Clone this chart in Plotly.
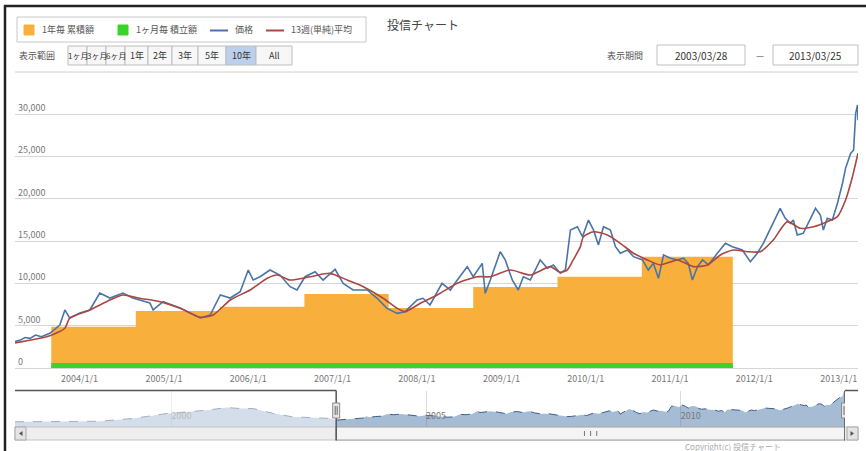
import pandas as pd
import plotly.graph_objects as go

# ---------------- data ----------------
# weekly NAV (sampled) for the visible period
price_dates = [
    "2003-03-28", "2003-04-20", "2003-05-10", "2003-06-01", "2003-06-25", "2003-07-20",
    "2003-08-26", "2003-10-08", "2003-10-30", "2003-11-20", "2004-01-03", "2004-02-15",
    "2004-03-29", "2004-05-12", "2004-07-07", "2004-08-19", "2004-11-01", "2004-11-15",
    "2004-12-28", "2005-03-12", "2005-06-07", "2005-07-20", "2005-09-02", "2005-10-15",
    "2005-11-27", "2006-01-01", "2006-01-22", "2006-02-21", "2006-04-05", "2006-05-18",
    "2006-07-01", "2006-07-31", "2006-09-04", "2006-10-17", "2006-11-21", "2007-01-12",
    "2007-02-16", "2007-03-31", "2007-05-31", "2007-07-13", "2007-08-25", "2007-10-08",
    "2007-11-11", "2008-01-02", "2008-01-28", "2008-02-27", "2008-04-19", "2008-05-25",
    "2008-06-24", "2008-08-06", "2008-09-01", "2008-10-10", "2008-10-23", "2008-11-14",
    "2008-12-27", "2009-01-18", "2009-02-17", "2009-03-15", "2009-04-06", "2009-05-06",
    "2009-06-18", "2009-07-19", "2009-08-14", "2009-09-13", "2009-10-05", "2009-10-27",
    "2009-11-26", "2009-12-18", "2010-01-13", "2010-02-04", "2010-02-25", "2010-03-19",
    "2010-04-18", "2010-05-10", "2010-05-31", "2010-07-01", "2010-07-27", "2010-09-04",
    "2010-09-29", "2010-10-21", "2010-11-12", "2010-12-04", "2011-01-03", "2011-02-02",
    "2011-02-28", "2011-03-21", "2011-04-08", "2011-04-30", "2011-05-22", "2011-06-16",
    "2011-07-25", "2011-08-29", "2011-09-28", "2011-11-10", "2011-12-15", "2012-01-14",
    "2012-02-09", "2012-03-23", "2012-04-22", "2012-05-14", "2012-06-05", "2012-06-18",
    "2012-07-05", "2012-07-31", "2012-08-22", "2012-09-22", "2012-10-13", "2012-10-26",
    "2012-11-12", "2012-12-04", "2012-12-26", "2013-01-17", "2013-01-30", "2013-02-21",
    "2013-03-06", "2013-03-15", "2013-03-23", "2013-03-25",
]
price_values = [
    3110, 3300, 3600, 3500, 3900, 3700,
    4100, 5080, 6860, 5900, 6500, 6860,
    8860, 8270, 8860, 8270, 7680, 6860,
    7840, 7090, 5910, 6260, 8630, 8270,
    9020, 11580, 10400, 10790, 11580, 10990,
    9610, 9220, 10790, 11380, 10400, 11660,
    10010, 9220, 9220, 8240, 7050, 6460,
    6660, 8040, 8240, 7450, 10010, 9220,
    10400, 11980, 10790, 12370, 8830, 10400,
    13750, 12770, 10400, 9220, 10790, 10400,
    12770, 11790, 12180, 11200, 11580, 16310,
    16700, 15520, 17490, 16310, 14540, 16700,
    16310, 14340, 13560, 13950, 13160, 12770,
    11580, 12370, 10600, 13360, 12970, 12770,
    12970, 12370, 10400, 11980, 12770, 12180,
    13560, 14740, 14340, 13950, 12570, 13560,
    14740, 17100, 18870, 17690, 17100, 17490,
    15720, 15920, 17100, 18870, 18090, 16310,
    17690, 17490, 19470, 21830, 23600, 25370,
    25770, 30100, 31090, 29300,
]

# 13-week moving average
ma_dates = [
    "2003-03-28", "2003-08-26", "2003-10-30", "2003-11-20", "2004-02-15", "2004-05-12",
    "2004-07-07", "2004-09-19", "2004-12-15", "2005-03-12", "2005-06-07", "2005-08-02",
    "2005-10-15", "2006-01-09", "2006-03-24", "2006-05-06", "2006-07-01", "2006-09-26",
    "2006-12-21", "2007-03-05", "2007-05-14", "2007-08-08", "2007-10-08", "2007-11-11",
    "2008-01-16", "2008-03-29", "2008-06-24", "2008-09-19", "2008-11-14", "2009-02-09",
    "2009-05-06", "2009-08-01", "2009-09-13", "2009-10-14", "2009-11-08", "2009-12-09",
    "2009-12-22", "2010-02-04", "2010-04-05", "2010-05-31", "2010-07-27", "2010-09-25",
    "2010-11-20", "2011-02-02", "2011-04-13", "2011-06-12", "2011-08-07", "2011-10-02",
    "2011-12-02", "2012-01-27", "2012-03-23", "2012-05-23", "2012-07-18", "2012-09-13",
    "2012-11-12", "2012-12-26", "2013-01-30", "2013-03-01", "2013-03-25",
]
ma_values = [
    2950, 3800, 4700, 5900, 6860, 8040,
    8630, 8240, 7840, 7060, 5990, 6260,
    8040, 9220, 10600, 10990, 10400, 10790,
    11190, 10400, 9610, 8240, 7050, 6660,
    7650, 8630, 10010, 10790, 10790, 11580,
    10990, 11980, 11300, 11600, 12770, 14340,
    15520, 16110, 15720, 14740, 13560, 12770,
    12180, 12770, 11980, 12180, 13360, 13950,
    13750, 13750, 15130, 17300, 16510, 16700,
    17300, 17890, 19860, 22610, 25380,
]

# yearly accumulated amount (step series) and monthly contribution
yearly_dates = [
    "2003-09-01", "2004-09-01", "2005-09-01", "2006-09-01", "2007-09-01",
    "2008-09-01", "2009-09-01", "2010-09-01", "2011-09-30",
]
yearly_values = [4880, 6740, 7250, 8750, 7090, 9570, 10780, 13140, 13140]
monthly_values = [600, 600, 600, 600, 600, 600, 600, 600, 600]

# older history, shown only in the navigator
history_dates = [
    "1996-12-05", "1997-10-20", "1998-08-10", "1999-04-01", "1999-12-01", "2000-04-20",
    "2000-09-10", "2001-02-01", "2001-05-10", "2001-08-10", "2002-01-01", "2002-05-20",
    "2002-10-15", "2003-02-15",
]
history_values = [
    1510, 1510, 2000, 4730, 9460, 10970,
    12580, 15140, 14190, 14190, 9460, 6240,
    5670, 4730,
]

y_tick_values = [0, 5000, 10000, 15000, 20000, 25000, 30000]
y_tick_text = ["0", "5,000", "10,000", "15,000", "20,000", "25,000", "30,000"]
x_tick_dates = ["2004-01-01", "2005-01-01", "2006-01-01", "2007-01-01", "2008-01-01",
                "2009-01-01", "2010-01-01", "2011-01-01", "2012-01-01", "2013-01-01"]
x_tick_text = ["2004/1/1", "2005/1/1", "2006/1/1", "2007/1/1", "2008/1/1",
               "2009/1/1", "2010/1/1", "2011/1/1", "2012/1/1", "2013/1/1"]
nav_tick_dates = ["2000-01-01", "2005-01-01", "2010-01-01"]
nav_tick_text = ["2000", "2005", "2010"]

range_buttons = ["1ヶ月", "3ヶ月", "6ヶ月", "1年", "2年", "3年", "5年", "10年", "All"]
selected_button = "10年"
view_start = "2003-03-28"
view_end = "2013-03-25"
view_start_text = "2003/03/28"
view_end_text = "2013/03/25"

legend_labels = ["1年毎 累積額", "1ヶ月毎 積立額", "価格", "13週(単純)平均"]
chart_title = "投信チャート"

# ---------------- styling / layout ----------------
W, H = 866, 451
ML, MR, MT, MB = 15, 8, 80, 24
PW = W - ML - MR
PH = H - MT - MB
PLOT_BOTTOM = H - MB

ORANGE = "#F9AF3C"
GREEN = "#3BD32B"
BLUE = "#4A74A8"
RED = "#AA4643"
FONT = "Noto Sans CJK JP"
NAV_RANGE = [-3500, 31500]


def px(x):
    return (x - ML) / PW


def py(y):
    return (PLOT_BOTTOM - y) / PH


main_bottom_px, main_top_px = 372, MT
nav_top_px = 390.5

fig = go.Figure()

fig.add_trace(go.Scatter(
    x=yearly_dates, y=yearly_values, mode="lines",
    line=dict(width=0, shape="hv"), fill="tozeroy", fillcolor=ORANGE,
    xaxis="x", yaxis="y", hoverinfo="skip"))
fig.add_trace(go.Scatter(
    x=yearly_dates, y=monthly_values, mode="lines",
    line=dict(width=0, shape="hv"), fill="tozeroy", fillcolor=GREEN,
    xaxis="x", yaxis="y", hoverinfo="skip"))
fig.add_trace(go.Scatter(
    x=price_dates, y=price_values, mode="lines",
    line=dict(color=BLUE, width=1.6), xaxis="x", yaxis="y"))
fig.add_trace(go.Scatter(
    x=ma_dates, y=ma_values, mode="lines",
    line=dict(color=RED, width=1.6, shape="spline", smoothing=0.6),
    xaxis="x", yaxis="y"))

# navigator series
nav_dates = history_dates + price_dates
nav_values = history_values + price_values
fig.add_trace(go.Scatter(
    x=nav_dates, y=[NAV_RANGE[0]] * len(nav_dates), mode="lines",
    line=dict(width=0), xaxis="x2", yaxis="y2", hoverinfo="skip"))
fig.add_trace(go.Scatter(
    x=nav_dates, y=nav_values, mode="lines", fill="tonexty",
    fillcolor="rgba(69,114,167,0.48)",
    line=dict(color="#3f5f8c", width=1, dash="dash"),
    xaxis="x2", yaxis="y2", hoverinfo="skip"))

# y range so that pixel rows line up with the grid
y_lo, y_hi = -473, 34043

fig.update_layout(
    width=W, height=H,
    margin=dict(l=ML, r=MR, t=MT, b=MB),
    paper_bgcolor="white", plot_bgcolor="white",
    showlegend=False,
    font=dict(family=FONT, size=9, color="#666666"),
    xaxis=dict(
        domain=[0, 1], anchor="y", type="date",
        range=[view_start, view_end],
        tickvals=x_tick_dates, ticktext=x_tick_text,
        showgrid=False, zeroline=False, showline=False, ticks="",
        tickfont=dict(size=9, color="#777777"),
    ),
    yaxis=dict(
        domain=[py(main_bottom_px), 1], anchor="x",
        range=[y_lo, y_hi],
        tickvals=y_tick_values, ticktext=y_tick_text,
        ticklabelposition="inside top",
        gridcolor="#d6d6d6", gridwidth=1,
        zeroline=False, showline=False, ticks="",
        tickfont=dict(size=9, color="#777777"),
    ),
    xaxis2=dict(
        domain=[0, px(845)], anchor="y2", type="date",
        range=[history_dates[0], view_end],
        tickvals=nav_tick_dates, ticktext=nav_tick_text,
        ticklabelposition="inside right",
        showgrid=True, gridcolor="#dcdcdc", zeroline=False, showline=False, ticks="",
        tickfont=dict(size=9, color="#777777"),
    ),
    yaxis2=dict(
        domain=[0, py(nav_top_px)], anchor="x2",
        range=NAV_RANGE, visible=False, showgrid=False,
    ),
)

shapes = []
annotations = []


def rect(x0, y0, x1, y1, fill="rgba(0,0,0,0)", line="#bbbbbb", width=1, layer="above"):
    shapes.append(dict(type="rect", xref="paper", yref="paper",
                       x0=px(x0), x1=px(x1), y0=py(y1), y1=py(y0),
                       fillcolor=fill, line=dict(color=line, width=width), layer=layer))


def hline(x0, x1, y, color="#cccccc", width=1):
    shapes.append(dict(type="line", xref="paper", yref="paper",
                       x0=px(x0), x1=px(x1), y0=py(y), y1=py(y),
                       line=dict(color=color, width=width)))


def text(x, y, s, size=9, color="#555555", anchor="left"):
    annotations.append(dict(xref="paper", yref="paper", x=px(x), y=py(y), text=s,
                            showarrow=False, xanchor=anchor, yanchor="middle",
                            font=dict(family=FONT, size=size, color=color)))


# legend box
rect(17, 17, 366, 42, line="#c8c8c8")
rect(24, 25, 34, 35, fill=ORANGE, line=ORANGE)
text(40, 30, legend_labels[0])
rect(118, 25, 128, 35, fill=GREEN, line=GREEN)
text(134, 30, legend_labels[1])
hline(210, 228, 30.5, color=BLUE, width=2)
text(233, 30, legend_labels[2])
hline(266, 284, 30.5, color=RED, width=2)
text(289, 30, legend_labels[3])

# title
text(385, 24, chart_title, size=12, color="#444444")

# range selector
text(17, 56, "表示範囲", size=9)
button_edges = [68, 87, 106, 125, 148, 172, 198, 226, 256, 292]
for i, label in enumerate(range_buttons):
    x0, x1 = button_edges[i], button_edges[i + 1]
    fill = "#bcd0ec" if label == selected_button else "#f7f7f7"
    rect(x0, 46, x1, 65, fill=fill, line="#bdbdbd", layer="below")
    text((x0 + x1) / 2, 56, label, size=9 if i > 2 else 8, color="#333333", anchor="center")

# displayed period inputs
text(605, 55, "表示期間", size=9)
rect(657, 45, 745, 65, fill="white", line="#c0c0c0")
text(701, 55, view_start_text, size=10, color="#333333", anchor="center")
text(760, 55, "—", size=9, anchor="center")
rect(773, 45, 858, 65, fill="white", line="#c0c0c0")
text(815, 55, view_end_text, size=10, color="#333333", anchor="center")

# separator under the toolbar
hline(15, 858, 72, color="#d0d0d0")

# navigator mask over the unselected period
shapes.append(dict(type="rect", xref="x2", yref="paper",
                   x0=history_dates[0], x1=view_start, y0=0, y1=py(nav_top_px),
                   fillcolor="rgba(255,255,255,0.5)", line=dict(width=0), layer="above"))

# scrollbar
rect(15, 427, 858, 440, fill="#eeeeee", line="#c4c4c4")
shapes.append(dict(type="rect", xref="x2", yref="paper",
                   x0=view_start, x1=view_end, y0=py(440), y1=py(427),
                   fillcolor="#f4f4f4", line=dict(color="#a0a0a0", width=1), layer="above"))
mid = pd.Timestamp(view_start) + (pd.Timestamp(view_end) - pd.Timestamp(view_start)) / 2
for off in (-2, 0, 2):
    shapes.append(dict(type="line", xref="x2", yref="paper",
                       x0=mid + pd.Timedelta(days=off * 22), x1=mid + pd.Timedelta(days=off * 22),
                       y0=py(436), y1=py(431), line=dict(color="#777777", width=1)))
rect(15, 427, 26, 440, fill="#e4e4e4", line="#a8a8a8")
rect(847, 427, 858, 440, fill="#e4e4e4", line="#a8a8a8")
shapes.append(dict(type="path", xref="paper", yref="paper",
                   path=f"M {px(22.5)} {py(431)} L {px(22.5)} {py(436)} L {px(19)} {py(433.5)} Z",
                   fillcolor="#555555", line=dict(width=0)))
shapes.append(dict(type="path", xref="paper", yref="paper",
                   path=f"M {px(850.5)} {py(431)} L {px(850.5)} {py(436)} L {px(854)} {py(433.5)} Z",
                   fillcolor="#555555", line=dict(width=0)))

# navigator outline
OUT = "#555555"
shapes.append(dict(type="line", xref="x2", yref="paper", x0=history_dates[0], x1=view_start,
                   y0=py(nav_top_px), y1=py(nav_top_px), line=dict(color=OUT, width=1.5)))
shapes.append(dict(type="line", xref="x2", yref="paper", x0=view_start, x1=view_start,
                   y0=py(nav_top_px), y1=py(440.5), line=dict(color=OUT, width=1.5)))
shapes.append(dict(type="line", xref="x2", yref="paper", x0=view_end, x1=view_end,
                   y0=py(nav_top_px), y1=py(440.5), line=dict(color=OUT, width=1.5)))
shapes.append(dict(type="line", xref="paper", yref="paper", x0=px(845), x1=px(858),
                   y0=py(nav_top_px), y1=py(nav_top_px), line=dict(color=OUT, width=1.5)))

# navigator handles
for d in (view_start, view_end):
    t = pd.Timestamp(d)
    shapes.append(dict(type="rect", xref="x2", yref="paper",
                       x0=t - pd.Timedelta(days=25), x1=t + pd.Timedelta(days=25),
                       y0=py(418), y1=py(403),
                       fillcolor="#ebe7e8", line=dict(color="#888888", width=1), layer="above"))
    for off in (-7, 7):
        shapes.append(dict(type="line", xref="x2", yref="paper",
                           x0=t + pd.Timedelta(days=off), x1=t + pd.Timedelta(days=off),
                           y0=py(415), y1=py(406), line=dict(color="#666666", width=1)))

# copyright
text(683, 446, "Copyright(c) 投信チャート", size=8, color="#aaaaaa")

# outer frame (left and top edges visible)
rect(5, 6, 880, 470, line="#222222", width=2.5)

fig.update_layout(shapes=shapes, annotations=annotations)
fig.write_html("out.html")
